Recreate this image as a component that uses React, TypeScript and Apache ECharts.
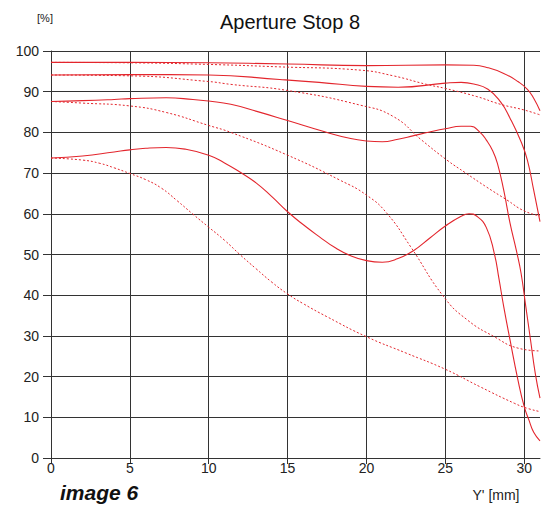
import React, { useEffect, useRef } from 'react';
import * as echarts from 'echarts';

const xTicks = [0, 5, 10, 15, 20, 25, 30];
const yMin = 0;
const yMax = 100;
const yStep = 10;
const xMax = 31;

// MTF curves (x = image height Y' in mm, y = contrast in %)
const solidA = [[0, 97.2], [5, 97.2], [10, 97.1], [15, 96.8], [20, 96.4], [25, 96.6], [26.8, 96.5], [27.7, 95.9], [28.7, 94.5], [29.6, 92.5], [30.2, 90.6], [30.6, 88.4], [31, 85.3]];
const dottedB = [[0, 97.2], [5, 97.1], [10, 96.7], [14.5, 96.1], [19.6, 95.3], [21.7, 93.9], [23.8, 91.8], [25, 90.8], [27, 88.8], [28.5, 86.9], [30, 85.5], [31, 84.3]];
const solidC = [[0, 94.1], [5, 94.2], [10, 94.1], [14.5, 93.0], [17, 92.3], [20, 91.3], [22, 91.1], [25, 92.1], [26, 92.3], [26.8, 91.9], [27.7, 90.6], [28.5, 87.5], [29.1, 83.5], [29.8, 77.7], [30.2, 73.2], [30.6, 65.8], [31, 58.1]];
const dottedD = [[0, 94.1], [5, 93.9], [10, 92.5], [11.4, 91.8], [15, 90.3], [19.6, 86.7], [21.7, 83.9], [23.5, 78.1], [25.1, 73.2], [26.3, 70], [27.6, 66.6], [28.9, 63.4], [30, 60.7], [31, 59.5]];
const solidE = [[0, 87.6], [2, 87.8], [4, 88.1], [5, 88.3], [7.3, 88.5], [9, 88.1], [10, 87.7], [11.4, 86.9], [13.1, 85.1], [15, 82.9], [17.3, 80.2], [19, 78.5], [20, 77.9], [21, 77.7], [22, 78.3], [23, 79.2], [24, 80.1], [25, 80.9], [26, 81.5], [26.6, 81.5], [27.2, 80], [27.6, 78.1], [28, 75.5], [28.3, 72.4], [28.7, 65.8], [29.1, 57.7], [29.5, 51], [29.8, 45.4], [30.1, 37.2], [30.4, 29], [30.7, 20.8], [31, 14.7]];
const dottedF = [[0, 87.6], [2, 87.2], [5, 86.5], [7.3, 84.9], [10, 81.7], [11.4, 80], [15, 74.4], [18.3, 68.3], [20, 64.6], [21.3, 60.1], [22.8, 51.9], [24.9, 39.6], [26.4, 33.9], [28.1, 29.8], [29.6, 27], [31, 26.3]];
const solidG = [[0, 73.7], [2, 74.2], [4, 75.2], [5, 75.7], [6, 76.1], [7.3, 76.3], [8.5, 75.9], [10, 74.4], [11, 72.5], [12, 70.2], [13, 67.6], [14, 64.2], [15, 60.5], [16, 57.3], [17, 54.4], [18, 51.7], [19, 49.7], [20, 48.5], [21, 48.1], [22, 49], [23, 51], [24, 54], [25, 57], [26, 59.4], [26.5, 60], [27, 59.4], [27.6, 56.6], [28.1, 50.3], [28.4, 44], [28.7, 37.2], [29.1, 29], [29.6, 19.2], [30, 12.6], [30.3, 9.3], [30.6, 6.3], [31, 4.2]];
const dottedH = [[0, 73.7], [2, 73.2], [3.1, 72.4], [4, 71.3], [5, 69.9], [6, 68.4], [7, 66.3], [8, 63.2], [9, 59.9], [10, 56.7], [11, 53.5], [12, 49.9], [13, 46.5], [14, 43.2], [15, 40.3], [16, 37.9], [17.5, 34.7], [20, 29.8], [22.5, 25.8], [25, 21.8], [27.2, 17.5], [29.4, 13.4], [30.2, 12.2], [31, 11.4]];

const solidSeries = [solidA, solidC, solidE, solidG];
const dottedSeries = [dottedB, dottedD, dottedF, dottedH];

const FONT = 'Liberation Sans';
const RED = '#e3262d';
const GRID = '#333';

export default function App() {
  const ref = useRef<HTMLDivElement>(null);
  useEffect(() => {
    const chart = echarts.init(ref.current!, null, { renderer: 'svg' });
    const series: any[] = [];
    solidSeries.forEach((d, i) => {
      series.push({
        type: 'line', name: 'solid' + i, data: d, showSymbol: false, smooth: 0.5,
        lineStyle: { color: RED, width: 1.1, type: 'solid' }, silent: true,
      });
    });
    dottedSeries.forEach((d, i) => {
      series.push({
        type: 'line', name: 'dotted' + i, data: d, showSymbol: false, smooth: 0.5,
        lineStyle: { color: RED, width: 1, type: [2, 2] }, silent: true,
      });
    });
    chart.setOption({
      animation: false,
      grid: { left: 51, right: 5, top: 51, bottom: 48, containLabel: false },
      xAxis: {
        type: 'value', min: 0, max: xMax, interval: 5,
        axisLine: { show: true, onZero: false, lineStyle: { color: GRID, width: 1 } },
        axisTick: { show: true, length: 6, lineStyle: { color: GRID }, customValues: xTicks },
        axisLabel: { customValues: xTicks, margin: 3, fontSize: 14, color: '#222', fontFamily: FONT },
        splitLine: { show: true, lineStyle: { color: GRID, width: 1 } },
      },
      yAxis: {
        type: 'value', min: yMin, max: yMax, interval: yStep,
        axisLine: { show: true, lineStyle: { color: GRID, width: 1 } },
        axisTick: { show: true, length: 8, lineStyle: { color: GRID } },
        axisLabel: { margin: 12, fontSize: 14, color: '#222', fontFamily: FONT },
        splitLine: { show: true, lineStyle: { color: GRID, width: 1 } },
      },
      graphic: [
        { type: 'text', x: 290, y: 22, style: { text: 'Aperture Stop 8', fontSize: 20, fontFamily: FONT, fill: '#111', textAlign: 'center', textVerticalAlign: 'middle' } },
        { type: 'text', x: 45, y: 18, style: { text: '[%]', fontSize: 11, fontFamily: FONT, fill: '#222', textAlign: 'center', textVerticalAlign: 'middle' } },
        { type: 'text', x: 60, y: 492, style: { text: 'image 6', fontSize: 21, fontWeight: 'bold', fontStyle: 'italic', fontFamily: FONT, fill: '#111', textAlign: 'left', textVerticalAlign: 'middle' } },
        { type: 'text', x: 496, y: 495, style: { text: "Y' [mm]", fontSize: 14, fontFamily: FONT, fill: '#222', textAlign: 'center', textVerticalAlign: 'middle' } },
      ],
      series,
    });
    return () => chart.dispose();
  }, []);
  return <div ref={ref} style={{ position: 'absolute', left: 0, top: 0, width: 545, height: 506 }} />;
}
